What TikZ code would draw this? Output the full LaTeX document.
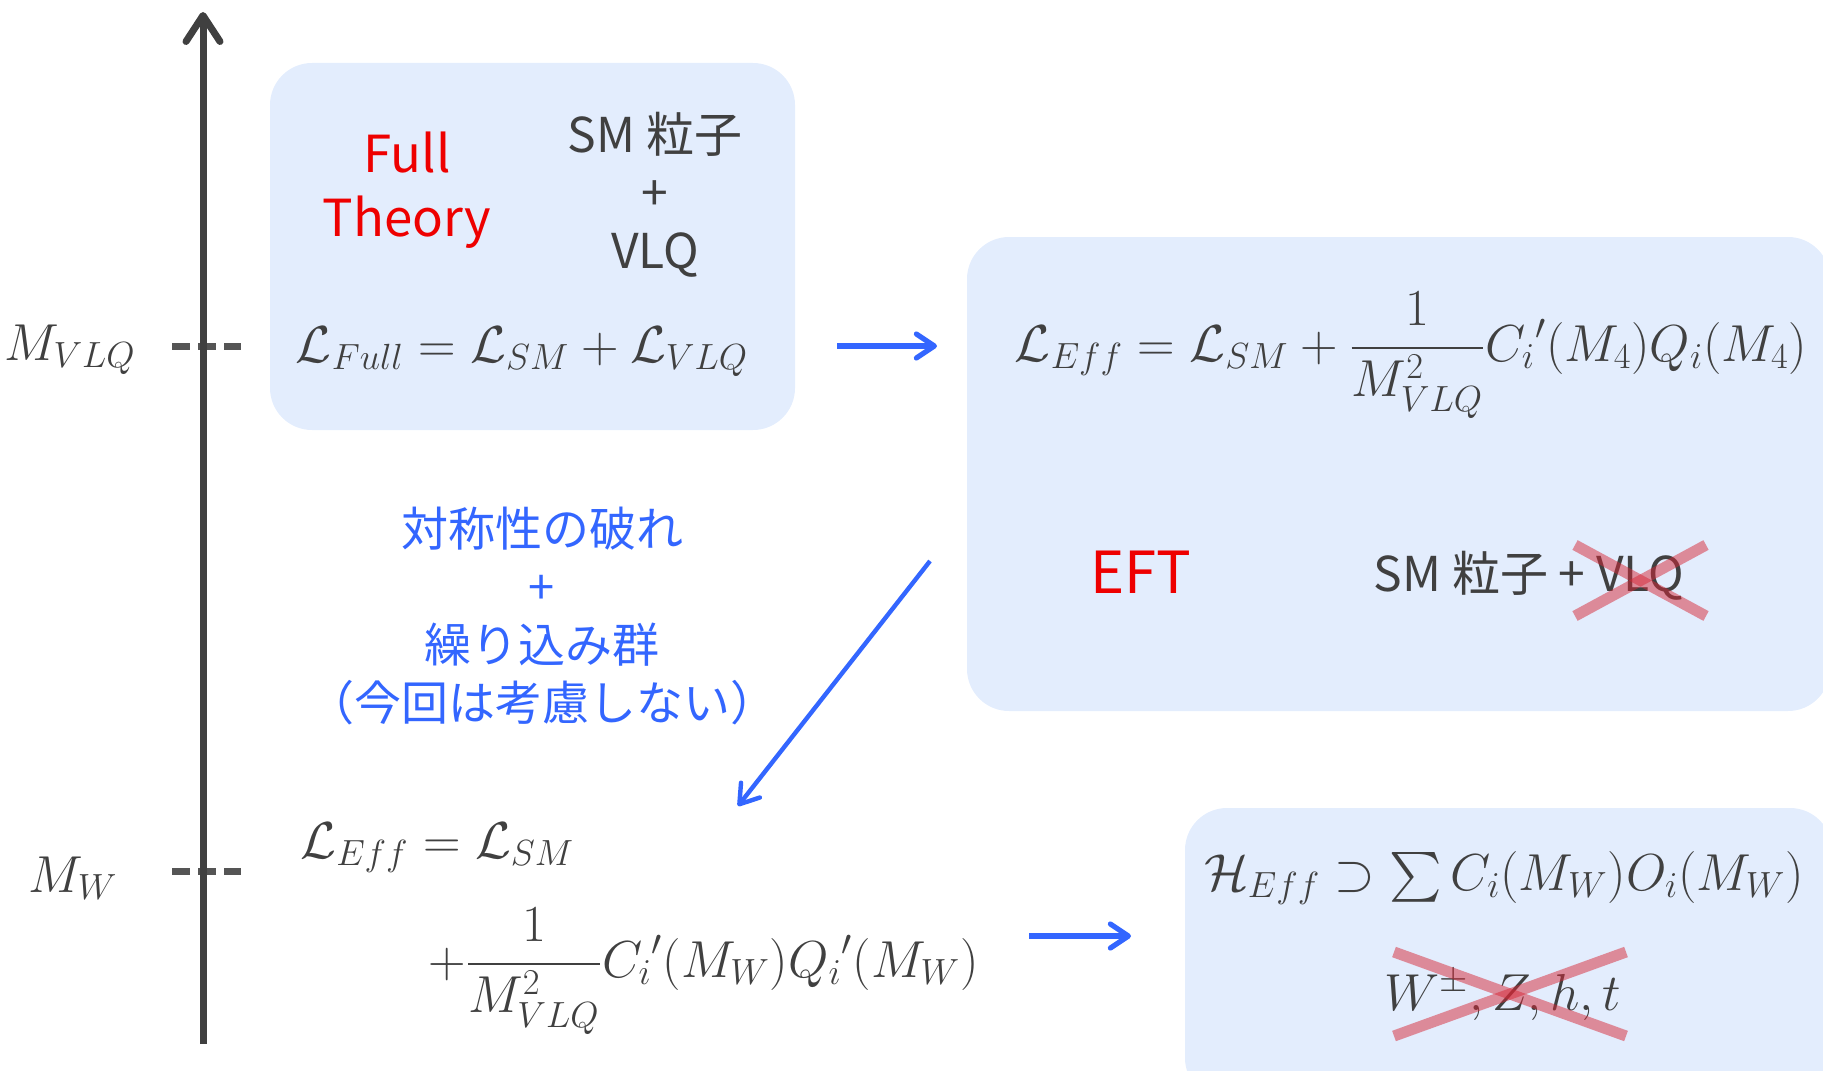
\RequirePackage{fix-cm}
\documentclass[tikz,border=0pt]{standalone}
\usepackage[no-math]{fontspec}
\usepackage{amsmath}
\usetikzlibrary{arrows.meta}
\newfontfamily\jp{Noto Sans CJK JP}
\definecolor{boxbg}{RGB}{227,237,253}
\definecolor{txt}{RGB}{64,64,64}
\definecolor{arrowblue}{RGB}{51,102,255}
\definecolor{fullred}{RGB}{238,0,0}
\definecolor{crossred}{RGB}{215,40,55}
\definecolor{axisgray}{RGB}{64,64,64}
\definecolor{dashgray}{RGB}{85,85,85}
\begin{document}
\begin{tikzpicture}[x=0.5pt,y=-0.5pt,
  mathtxt/.style={text=txt, font=\fontsize{26}{31}\selectfont, inner sep=0pt},
  jptxt/.style={text=txt, font=\jp\fontsize{24}{29}\selectfont, align=center, inner sep=0pt},
  redtxt/.style={text=fullred, align=center, inner sep=0pt},
  bluearrow/.style={draw=arrowblue, line width=2.6pt, -{Straight Barb[length=9pt,width=12pt,line cap=round,line join=round]}},
  panel/.style={fill=boxbg, rounded corners=21pt},
  crossline/.style={draw=crossred, draw opacity=0.5, line width=5.5pt},
  tick/.style={draw=dashgray, line width=3.5pt, dash pattern=on 9pt off 4pt},
]
\useasboundingbox (0,0) rectangle (1823,1070);
\clip (0,0) rectangle (1823,1070);

% panels
\path[panel] (270,63) rectangle (795,430);
\path[panel] (967,237) rectangle (1830,711);
\path[panel] (1185,808) rectangle (1832,1100);

% axis ticks
\coordinate (t1a) at (172,346); \coordinate (t1b) at (241,346);
\coordinate (t2a) at (172,871); \coordinate (t2b) at (241,871);
\draw[tick] (t1a) -- (t1b);
\draw[tick] (t2a) -- (t2b);

% axis
\coordinate (axbot) at (203,1044);
\coordinate (axtop) at (203,12);
\draw[draw=axisgray, line width=3.5pt, -{Straight Barb[length=13pt,width=17pt,line cap=round,line join=round]}] (axbot) -- (axtop);

% axis labels
\node[mathtxt, anchor=base] (mvlq) at (70,360) {$M_{VLQ}$};
\node[mathtxt, anchor=base] (mw) at (73,892) {$M_W$};

% panel 1
\node[redtxt, font=\jp\fontsize{25.5}{32}\selectfont] (full) at (407,190) {Full\\Theory};
\node[jptxt] (smvlq) at (655,195) {SM 粒子\\+\\VLQ};
\node[mathtxt, anchor=base] (lfull) at (522,362) {$\mathcal{L}_{Full} = \mathcal{L}_{SM} + \mathcal{L}_{VLQ}$};

% panel 2
\node[mathtxt, anchor=base] (leff) at (1411,361) {$\mathcal{L}_{Eff} = \mathcal{L}_{SM} + \dfrac{1}{M_{VLQ}^2}{C_i}'(M_4)Q_i(M_4)$};
\node[redtxt, font=\jp\fontsize{29}{34}\selectfont] (eft) at (1141,572) {EFT};
\node[jptxt] (smvlq2) at (1529,576) {SM 粒子 + VLQ};
\draw[crossline] (1575,545) -- (1706,616);
\draw[crossline] (1575,616) -- (1706,545);

% middle text
\node[text=arrowblue, font=\jp\fontsize{23.5}{29}\selectfont, align=center, inner sep=0pt] (brk) at (542,616) {対称性の破れ\\+\\繰り込み群\\（今回は考慮しない）};

% lower equation
\node[mathtxt, anchor=base west] (leffa) at (300,858) {$\mathcal{L}_{Eff} = \mathcal{L}_{SM}$};
\node[mathtxt, anchor=base west] (leffb) at (428,977) {$+\dfrac{1}{M_{VLQ}^2}{C_i}'(M_W){Q_i}'(M_W)$};

% panel 4
\node[mathtxt, anchor=base] (heff) at (1504,890) {$\mathcal{H}_{Eff} \supset \textstyle\sum C_i(M_W)O_i(M_W)$};
\node[mathtxt, anchor=base] (wzht) at (1503,1010) {$W^{\pm},Z,h,t$};
\draw[crossline] (1394,952) -- (1626,1036);
\draw[crossline] (1394,1036) -- (1626,952);

% arrows
\coordinate (a1s) at (837,346); \coordinate (a1e) at (937,346);
\coordinate (a2s) at (930,561); \coordinate (a2e) at (738,806);
\coordinate (a3s) at (1029,936); \coordinate (a3e) at (1131,936);
\draw[bluearrow] (a1s) -- (a1e);
\draw[bluearrow, line width=2.2pt] (a2s) -- (a2e);
\draw[bluearrow] (a3s) -- (a3e);
\end{tikzpicture}
\end{document}
